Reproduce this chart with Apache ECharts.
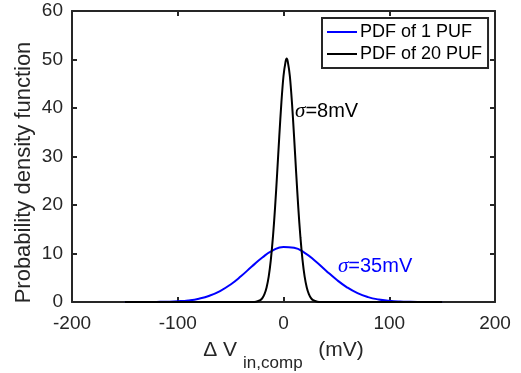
<!DOCTYPE html>
<html><head><meta charset="utf-8">
<script src="https://cdn.jsdelivr.net/npm/echarts@6/dist/echarts.min.js"></script>
<style>html,body{margin:0;padding:0;background:#fff}#c{width:521px;height:373px}</style>
</head><body><div id="c"></div>
<script>
// Blue: PDF of 1 PUF (sigma = 35 mV)
const blueX = [-150,-140,-130,-120,-110,-100,-90,-80,-70,-60,-50,-40,-30,-20,-10,0,10,20,30,40,50,60,70,80,90,100,110,120,130,140,150];
const blueY = [0,0.003,0.008,0.024,0.06,0.15,0.33,0.69,1.3,2.26,3.62,5.36,7.31,9.19,10.64,11.36,11.17,10.13,8.47,6.52,4.63,3.03,1.82,1.01,0.52,0.25,0.1,0.04,0.016,0.005,0];
// Black: PDF of 20 PUF (sigma = 8 mV)
const blackX = [-150,-40,-30,-26,-22,-20,-18,-16,-14,-12,-10,-8,-6,-4,-2,0,2,3,4,6,8,10,12,14,16,18,20,22,24,26,28,32,36,46,150];
const blackY = [0,0,0.01,0.07,0.38,0.8,1.6,2.98,5.23,8.62,13.36,19.4,26.55,34.1,41.1,46.6,49.6,50.2,49.6,46.6,41.1,34.1,26.55,19.4,13.36,8.62,5.23,2.98,1.6,0.8,0.38,0.07,0.01,0,0];
const xTicks = [-200,-100,0,100,200];
const yTicks = [0,10,20,30,40,50,60];
const seriesNames = ['PDF of 1 PUF','PDF of 20 PUF'];
const annBlack = {x:10.9, y:39.2, text:'8mV'};
const annBlue = {x:51.5, y:7.4, text:'35mV'};

const pairs = (xs, ys) => xs.map((x,i)=>[x, ys[i]]);
const AX = '#262626';
const FF = '"Liberation Sans", Arial, sans-serif';
const chart = echarts.init(document.getElementById('c'), null, {renderer:'canvas'});
const sigmaLabel = (txt, color) => ({
  show:true, position:'right', distance:0,
  formatter: '{s|σ}{t|=' + txt + '}',
  rich:{
    s:{fontFamily:'"Liberation Serif", "DejaVu Serif", serif', fontStyle:'italic', fontSize:21, color:color},
    t:{fontFamily:FF, fontSize:20, color:color}
  }
});
chart.setOption({
  animation:false,
  backgroundColor:'#fff',
  grid:{left:72, right:26, top:11, bottom:71, containLabel:false, outerBoundsMode:'none'},
  legend:{
    left:322, top:18, orient:'vertical', icon:'rect', itemWidth:30, itemHeight:2,
    itemGap:4, padding:[5,6,5,5], borderColor:AX, borderWidth:2, backgroundColor:'#fff',
    textStyle:{fontFamily:FF, fontSize:18, color:'#000', padding:[0,0,0,-2]},
    data: seriesNames
  },
  xAxis:[{
    type:'value', min:xTicks[0], max:xTicks[xTicks.length-1], interval:100,
    axisLine:{show:true, onZero:false, lineStyle:{color:AX, width:2}},
    axisTick:{show:true, inside:true, length:5, lineStyle:{color:AX, width:2}},
    axisLabel:{color:AX, fontFamily:FF, fontSize:19, margin:12},
    splitLine:{show:false},
    name:'{b|Δ V}{sub|in,comp}{b|  (mV)}', nameLocation:'middle', nameGap:27,
    nameTextStyle:{rich:{
      b:{fontFamily:FF, fontSize:21, color:AX},
      sub:{fontFamily:FF, fontSize:17, color:AX, padding:[26,4,0,6]}
    }}
  },{
    type:'value', position:'top', min:xTicks[0], max:xTicks[xTicks.length-1], interval:100,
    axisLine:{show:true, onZero:false, lineStyle:{color:AX, width:2}},
    axisTick:{show:true, inside:true, length:5, lineStyle:{color:AX, width:2}},
    axisLabel:{show:false}, splitLine:{show:false}
  }],
  yAxis:[{
    type:'value', min:yTicks[0], max:yTicks[yTicks.length-1], interval:10,
    axisLine:{show:true, onZero:false, lineStyle:{color:AX, width:2}},
    axisTick:{show:true, inside:true, length:5, lineStyle:{color:AX, width:2}},
    axisLabel:{color:AX, fontFamily:FF, fontSize:19, margin:9},
    splitLine:{show:false},
    name:'Probability density function', nameLocation:'middle', nameGap:37, nameMoveOverlap:false,
    nameTextStyle:{fontFamily:FF, fontSize:22, color:AX, padding:[0,32,0,0]}
  },{
    type:'value', position:'right', min:yTicks[0], max:yTicks[yTicks.length-1], interval:10,
    axisLine:{show:true, onZero:false, lineStyle:{color:AX, width:2}},
    axisTick:{show:true, inside:true, length:5, lineStyle:{color:AX, width:2}},
    axisLabel:{show:false}, splitLine:{show:false}
  }],
  series:[{
    name:seriesNames[0], type:'line', data:pairs(blueX, blueY), smooth:true, showSymbol:false,
    lineStyle:{color:'#0000ff', width:2}, itemStyle:{color:'#0000ff'},
    markPoint:{symbol:'circle', symbolSize:0, data:[{coord:[annBlue.x, annBlue.y], value:0, label:sigmaLabel(annBlue.text,'#0000ff')}]}
  },{
    name:seriesNames[1], type:'line', data:pairs(blackX, blackY), smooth:0.3, showSymbol:false,
    lineStyle:{color:'#000000', width:2}, itemStyle:{color:'#000000'},
    markPoint:{symbol:'circle', symbolSize:0, data:[{coord:[annBlack.x, annBlack.y], value:0, label:sigmaLabel(annBlack.text,'#000')}]}
  }]
});
</script></body></html>
